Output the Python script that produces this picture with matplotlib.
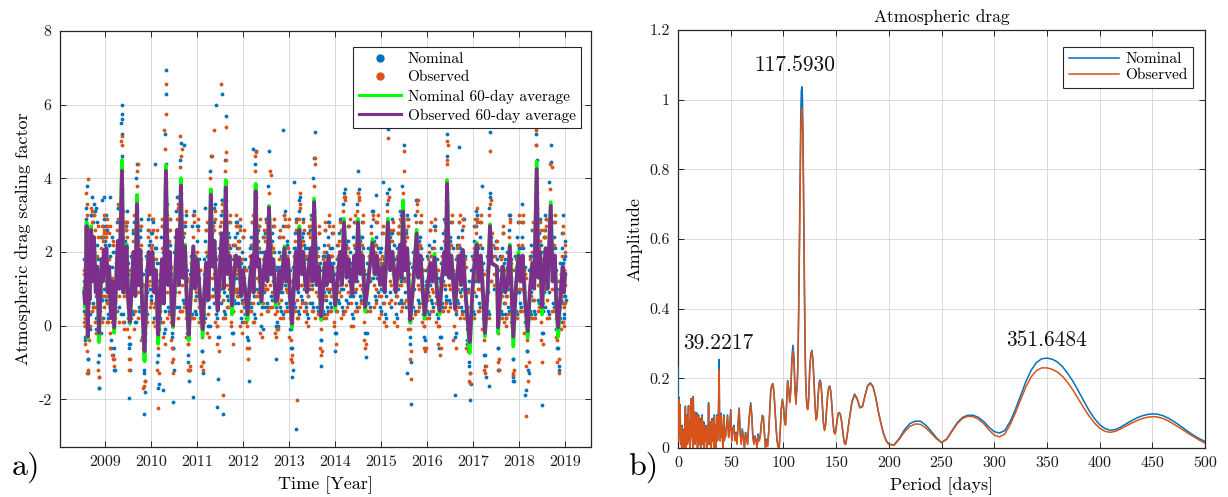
import numpy as np
import matplotlib
matplotlib.use("Agg")
import matplotlib.pyplot as plt
from matplotlib.lines import Line2D

plt.rcParams['font.family'] = ['cmr10', 'DejaVu Serif']
plt.rcParams['axes.unicode_minus'] = False
plt.rcParams['mathtext.fontset'] = 'cm'
plt.rcParams['axes.formatter.use_mathtext'] = True

BLUE = '#0072BD'
ORANGE = '#D95319'
GREEN = '#00FF00'
PURPLE = '#7E2F8E'
GRIDC = '#dadada'
FRAME = '#262626'

# ---------------- panel a) data ----------------
# 60-day average key points (fractional year)
KEY_T = [
    2008.550, 2008.565, 2008.585, 2008.600, 2008.625, 2008.645, 2008.665, 2008.700, 2008.730, 2008.760, 2008.800, 2008.830, 2008.870, 2008.900, 2008.930, 2008.950, 2008.975,
    2009.000, 2009.030, 2009.060, 2009.090, 2009.130, 2009.160, 2009.200, 2009.240, 2009.280, 2009.310, 2009.370, 2009.400, 2009.430, 2009.470, 2009.500, 2009.540, 2009.580, 2009.620, 2009.660, 2009.695, 2009.730, 2009.770, 2009.810, 2009.860, 2009.900, 2009.950, 2009.990,
    2010.030, 2010.070, 2010.110, 2010.155, 2010.200, 2010.240, 2010.280, 2010.325, 2010.370, 2010.410, 2010.450, 2010.480, 2010.530, 2010.570, 2010.610, 2010.650, 2010.690, 2010.740, 2010.780, 2010.820, 2010.870, 2010.920, 2010.960,
    2011.010, 2011.060, 2011.125, 2011.160, 2011.200, 2011.250, 2011.300, 2011.340, 2011.380, 2011.420, 2011.450, 2011.500, 2011.540, 2011.580, 2011.625, 2011.660, 2011.710, 2011.760, 2011.800, 2011.850, 2011.880, 2011.920, 2011.960,
    2012.000, 2012.050, 2012.100, 2012.150, 2012.200, 2012.230, 2012.275, 2012.310, 2012.350, 2012.400, 2012.450, 2012.500, 2012.530, 2012.565, 2012.610, 2012.660, 2012.710, 2012.750, 2012.790, 2012.830, 2012.900, 2012.940, 2012.980, 2013.030, 2013.065,
    2013.110, 2013.150, 2013.190, 2013.225, 2013.270, 2013.310, 2013.350, 2013.390, 2013.430, 2013.480, 2013.510, 2013.545, 2013.600, 2013.650, 2013.700, 2013.740, 2013.780, 2013.820, 2013.860, 2013.900, 2013.940, 2014.005,
    2014.060, 2014.110, 2014.150, 2014.195, 2014.250, 2014.300, 2014.370, 2014.420, 2014.460, 2014.500, 2014.550, 2014.600, 2014.655, 2014.720, 2014.815, 2014.860, 2014.910, 2014.980,
    2015.030, 2015.080, 2015.150, 2015.200, 2015.250, 2015.320, 2015.370, 2015.420, 2015.445, 2015.480, 2015.520, 2015.570, 2015.610, 2015.635, 2015.700, 2015.775, 2015.810, 2015.860, 2015.910, 2015.950,
    2016.010, 2016.070, 2016.110, 2016.165, 2016.220, 2016.275, 2016.320, 2016.380, 2016.410, 2016.435, 2016.480, 2016.530, 2016.610, 2016.650, 2016.700, 2016.740, 2016.780, 2016.830, 2016.880, 2016.930, 2016.990,
    2017.040, 2017.080, 2017.120, 2017.170, 2017.220, 2017.260, 2017.320, 2017.370, 2017.400, 2017.520, 2017.545, 2017.600, 2017.650, 2017.700, 2017.750, 2017.800, 2017.840, 2017.875, 2017.930, 2017.990,
    2018.030, 2018.080, 2018.130, 2018.190, 2018.240, 2018.290, 2018.330, 2018.385, 2018.420, 2018.460, 2018.500, 2018.540, 2018.580, 2018.620, 2018.690, 2018.730, 2018.780, 2018.810, 2018.850, 2018.900, 2018.950, 2018.975, 2019.000,
]
AVG_OBS = [
    0.9, 0.6, 1.4, 2.7, -0.3, 1.3, 0.7, 2.6, 1.2, 2.4, 0.9, 1.6, -0.2, 0.9, 1.8, 1.2, 2.05,
    1.4, 2.1, 0.9, 1.6, 0.2, 1.2, -0.05, 1.1, 2.3, 1.0, 4.2, 0.9, 1.6, 2.15, 0.8, 0.1, 1.0, 2.0, 0.8, 3.3, 1.1, 2.05, 0.5, -0.7, 1.0, 2.0, 1.4,
    2.0, 0.9, 1.5, -0.25, 0.8, 1.8, 0.6, 4.2, 1.1, 2.0, 0.5, 0.0, 1.5, 2.6, 1.1, 3.8, 1.3, 2.15, 0.6, -0.25, 1.0, 2.15, 1.0,
    1.8, 0.9, -0.1, 0.9, 1.7, 0.7, 3.55, 1.6, 2.3, 0.9, 0.4, 1.6, 2.5, 1.0, 3.75, 1.4, 1.9, 0.55, 1.3, 1.9, 1.6, 1.85, 0.8,
    1.5, 0.9, 0.3, 1.2, 1.9, 0.9, 3.65, 1.6, 1.8, 0.65, 1.5, 2.0, 1.2, 3.2, 1.4, 1.8, 0.65, 0.7, 1.5, 1.0, 2.1, 1.2, 1.8, 0.6, 0.05,
    1.2, 2.0, 1.0, 2.6, 1.4, 2.0, 1.2, 0.9, 1.6, 2.1, 1.2, 3.35, 1.1, 1.6, 0.25, 1.0, 1.7, 1.1, 1.9, 1.2, 1.6, 0.55,
    1.3, 2.0, 1.1, 2.8, 1.3, 1.8, 0.85, 1.9, 1.2, 2.8, 1.4, 1.9, 0.5, 1.2, 2.25, 1.4, 1.9, 1.1,
    1.6, 0.9, 2.8, 1.5, 2.0, 0.9, 1.6, 2.2, 1.3, 3.1, 1.5, 2.1, 0.8, 0.15, 1.1, 2.5, 1.3, 1.9, 0.9, 0.3,
    1.0, 1.7, 1.2, 1.85, 0.9, 0.4, 1.2, 2.0, 1.4, 3.85, 1.3, 1.9, 0.45, 1.3, 1.9, 1.1, 2.05, 1.0, 0.2, -0.45, 1.0,
    1.8, 2.2, 1.2, 1.9, 0.8, -0.2, 1.0, 2.7, 1.7, 1.6, -0.05, 1.0, 1.6, 0.9, 1.1, 2.15, 0.9, -0.3, 1.0, 1.9,
    1.2, 1.9, 0.7, -0.15, 1.0, 1.7, 1.0, 4.25, 1.3, 2.0, 0.5, 1.5, 2.1, 1.0, 3.25, 1.2, 1.9, 0.6, -0.05, 0.8, 1.6, 0.9, 1.4,
]
AVG_NOM = [
    1.0, 0.5, 1.5, 2.8, -0.35, 1.3, 0.7, 2.7, 1.2, 2.4, 0.9, 1.6, -0.45, 0.9, 1.8, 1.2, 1.95,
    1.4, 2.1, 0.9, 1.6, 0.2, 1.2, -0.2, 1.1, 2.3, 1.0, 4.5, 0.9, 1.6, 2.2, 0.8, 0.05, 1.0, 2.0, 0.8, 3.55, 1.1, 2.05, 0.5, -0.97, 1.0, 2.0, 1.4,
    2.0, 0.9, 1.5, -0.5, 0.8, 1.8, 0.6, 4.35, 1.1, 2.0, 0.5, -0.05, 1.5, 2.6, 1.1, 4.0, 1.3, 2.2, 0.6, -0.4, 1.0, 2.15, 1.0,
    1.8, 0.9, -0.3, 0.9, 1.7, 0.7, 3.7, 1.6, 2.3, 0.9, 0.4, 1.6, 2.5, 1.0, 3.95, 1.4, 1.9, 0.3, 1.3, 1.9, 1.6, 1.85, 0.8,
    1.5, 0.9, 0.15, 1.2, 1.9, 0.9, 3.85, 1.6, 1.8, 0.6, 1.5, 2.0, 1.2, 3.25, 1.4, 1.8, 0.55, 0.7, 1.5, 1.0, 2.15, 1.2, 1.8, 0.6, -0.05,
    1.2, 2.0, 1.0, 2.7, 1.4, 2.0, 1.2, 0.9, 1.6, 2.1, 1.2, 3.45, 1.1, 1.6, 0.15, 1.0, 1.7, 1.1, 1.9, 1.2, 1.6, 0.45,
    1.3, 2.0, 1.1, 2.9, 1.3, 1.8, 0.85, 1.9, 1.2, 2.9, 1.4, 1.9, 0.38, 1.2, 2.35, 1.4, 1.9, 1.1,
    1.6, 0.9, 2.9, 1.5, 2.0, 0.9, 1.6, 2.2, 1.3, 3.4, 1.5, 2.1, 0.8, 0.08, 1.1, 2.6, 1.3, 1.9, 0.9, 0.2,
    1.0, 1.7, 1.2, 1.95, 0.9, 0.3, 1.2, 2.0, 1.4, 3.95, 1.3, 1.9, 0.45, 1.3, 1.9, 1.1, 2.05, 1.0, 0.2, -0.75, 1.0,
    1.8, 2.25, 1.2, 1.9, 0.8, -0.3, 1.0, 2.75, 1.7, 1.6, -0.2, 1.0, 1.6, 0.9, 1.1, 2.2, 0.9, -0.57, 1.0, 2.0,
    1.2, 1.9, 0.7, -0.33, 1.0, 1.7, 1.0, 4.45, 1.3, 2.0, 0.3, 1.5, 2.1, 1.0, 3.35, 1.2, 1.9, 0.6, -0.3, 0.8, 1.6, 0.9, 1.4,
]
# daily scaling factors (tenths), three per key point, around each key point
NOM_PTS = [
    12,4,16, 0,9,-3, 20,7,26, 32,22,38, 2,-9,6, 19,8,14, 3,13,-1, 30,20,35, 17,6,24, 28,18,31, 14,2,8, 22,11,18, -10,2,-17, 4,15,-2, 24,12,34, 7,18,15, 27,16,35,
    10,22,18, 27,15,26, 13,3,8, 22,9,19, 5,-6,11, 16,6,20, -8,3,-12, 5,16,12, 28,18,32, 14,5,22, 55,46,37, 15,3,22, 12,23,19, 26,15,31, 12,2,-6, -5,7,-12, 15,4,9, 25,14,28, 11,1,16, 40,31,22, 17,5,24, 24,15,29, 8,-3,14, -12,-4,-18, 15,4,9, 26,14,22, 19,8,25,
    25,15,28, 13,2,6, 21,9,17, -10,3,-16, 12,2,6, 24,12,20, 10,-2,4, 52,44,33, 16,5,22, 26,14,22, 9,-3,3, -6,5,-12, 20,9,17, 31,21,35, 16,5,21, 45,36,28, 18,7,24, 27,16,30, 10,-2,5, -10,2,-15, 14,3,19, 27,16,31, 15,4,8,
    23,12,27, 13,2,7, -7,4,-13, 14,3,8, 23,11,19, 11,0,5, 42,33,25, 21,10,26, 28,18,33, 13,3,8, 7,-3,12, 21,10,17, 30,20,34, 15,4,9, 45,34,27, 19,8,25, 24,13,21, 9,-2,4, 18,7,14, 24,13,28, 21,10,18, 23,13,27, 12,2,7,
    20,9,16, 13,3,8, 6,-4,10, 16,6,22, 24,13,21, 14,3,8, 44,35,27, 21,10,26, 23,12,20, 10,0,5, 20,9,16, 25,14,29, 17,6,22, 38,29,22, 19,8,25, 23,12,20, 10,0,5, 11,1,6, 20,9,16, 15,4,9, 27,16,31, 17,6,22, 23,12,20, 10,-1,4, -6,4,-12,
    16,6,21, 25,14,29, 15,4,9, 31,21,35, 19,8,24, 25,14,22, 17,6,12, 13,3,8, 21,10,17, 26,15,29, 17,6,22, 40,31,24, 16,5,21, 21,10,17, 5,-4,10, 15,4,9, 22,11,19, 16,5,10, 24,13,28, 17,6,12, 21,10,17, 9,-2,4,
    18,7,13, 25,14,29, 16,5,10, 33,23,37, 18,7,23, 23,12,20, 13,3,8, 24,13,21, 17,6,12, 33,23,37, 19,8,24, 24,13,21, 9,-2,4, 17,6,12, 27,17,31, 19,8,14, 24,13,21, 16,5,10,
    21,10,17, 13,3,8, 33,23,37, 20,9,25, 25,14,22, 13,3,8, 21,10,17, 27,16,30, 18,7,13, 38,29,22, 20,9,25, 26,15,29, 12,2,7, -3,6,-10, 16,5,10, 30,20,34, 18,7,23, 24,13,21, 13,3,8, 6,-4,11,
    15,4,9, 22,11,19, 17,6,12, 23,13,27, 13,3,8, 7,-3,12, 17,6,12, 25,14,22, 19,8,14, 46,36,28, 18,7,23, 24,13,21, 8,-3,3, 18,7,13, 24,13,21, 16,5,10, 26,15,29, 15,4,9, 5,-5,10, -10,-2,-16, 15,4,9,
    23,12,20, 27,16,30, 17,6,12, 24,13,21, 12,2,7, -8,3,-14, 15,4,9, 32,22,36, 22,12,19, 21,13,18, -6,4,-12, 15,4,9, 21,10,17, 13,3,8, 16,5,10, 26,16,30, 13,3,8, -9,2,-15, 15,4,9, 24,13,21,
    17,6,12, 24,13,21, 11,1,6, -7,3,-13, 15,4,9, 22,11,19, 15,4,20, 52,45,36, 18,7,23, 25,14,22, 9,-2,4, 20,9,16, 26,15,29, 15,4,9, 39,30,23, 17,6,22, 24,13,21, 10,-1,4, -6,4,-12, 12,2,7, 21,10,17, 13,3,8, 19,8,14,
]
OBS_PTS = [
    9,14,2, 3,-5,11, 17,25,9, 36,24,30, -7,4,-12, 16,22,6, 10,0,15, 32,22,28, 14,21,5, 30,20,26, 5,13,-2, 19,9,24, -4,-14,5, 13,2,9, 21,27,14, 16,8,20, 25,30,14,
    19,8,24, 25,18,29, 6,15,1, 18,25,12, -2,9,-8, 13,22,8, 2,-9,7, 15,4,19, 26,33,17, 8,17,27, 50,42,31, 9,18,-1, 21,10,26, 28,19,24, 5,15,-3, 4,-9,12, 7,18,12, 23,30,16, 4,13,19, 38,28,44, 9,20,14, 27,18,22, 2,11,-6, -9,-15,0, 8,18,1, 24,30,15, 12,21,6,
    22,29,16, 5,15,0, 18,24,10, -6,5,-13, 4,14,9, 21,27,13, 1,12,-5, 48,39,30, 9,19,3, 23,29,16, 1,11,-6, 3,-9,8, 18,24,11, 29,22,33, 9,19,4, 43,33,48, 11,21,5, 25,19,31, 2,13,-5, -5,6,-12, 8,17,2, 24,30,17, 7,18,13,
    20,26,13, 5,15,0, -3,7,-10, 6,16,11, 20,26,12, 3,13,-3, 40,30,46, 13,23,8, 26,31,19, 6,15,0, 0,10,-7, 19,25,11, 28,33,21, 7,18,2, 42,31,47, 11,22,5, 22,28,15, 1,11,-5, 16,22,9, 22,27,15, 14,23,8, 21,26,14, 4,14,-2,
    18,24,10, 6,15,1, 0,9,-6, 10,19,4, 22,28,15, 6,16,1, 42,32,47, 13,23,8, 21,27,14, 3,13,-3, 18,24,10, 23,28,16, 10,19,4, 36,27,42, 11,22,5, 21,27,14, 3,13,-3, 4,14,-1, 18,24,10, 7,18,2, 24,29,17, 10,19,4, 21,27,14, 2,12,-4, 1,-8,7,
    10,19,4, 23,28,16, 7,18,2, 29,23,33, 11,22,6, 23,28,16, 10,19,4, 6,15,0, 19,25,11, 24,29,17, 10,19,4, 38,29,44, 9,19,3, 19,25,11, -1,9,-7, 7,18,2, 20,26,12, 8,18,3, 22,27,15, 10,19,4, 19,25,11, 1,11,-5,
    16,22,9, 23,28,16, 8,18,3, 31,24,35, 11,21,5, 21,27,14, 6,15,0, 22,28,15, 10,19,4, 31,24,35, 11,22,6, 22,28,15, 1,11,-5, 10,19,4, 25,30,18, 11,22,6, 22,28,15, 8,18,3,
    19,25,11, 6,15,0, 31,24,35, 12,23,7, 23,28,16, 6,15,0, 19,25,11, 25,29,18, 11,21,5, 36,27,42, 12,23,7, 24,29,17, 5,14,-1, 3,-7,10, 8,18,3, 28,33,21, 11,21,5, 22,28,15, 6,15,0, 0,10,-6,
    7,18,2, 20,26,12, 10,19,4, 21,26,14, 6,15,0, 0,10,-6, 10,19,4, 23,28,16, 11,22,6, 44,33,49, 11,21,5, 22,28,15, 0,11,-6, 11,21,5, 22,28,15, 8,18,3, 24,29,17, 7,18,2, -1,9,-7, -7,-13,2, 7,18,2,
    21,27,14, 25,29,18, 10,19,4, 22,28,15, 5,14,-1, -4,6,-11, 7,18,2, 30,23,34, 21,25,14, 19,23,15, -2,7,-9, 7,18,2, 19,25,11, 6,15,0, 8,18,3, 24,29,17, 6,15,0, -5,5,-12, 7,18,2, 22,28,15,
    10,19,4, 22,28,15, 4,14,-2, -4,6,-10, 7,18,2, 20,26,12, 7,18,2, 49,40,32, 11,21,5, 23,28,16, 1,11,-5, 18,24,10, 24,29,17, 7,18,2, 37,28,43, 10,19,4, 22,28,15, 2,12,-4, -2,7,-9, 5,14,-1, 19,25,11, 6,15,0, 11,22,6,
]
# second batch of daily values (tenths), two per key point
NOM_PTS2 = [
    18,2, 12,-4, 26,4, 29,17, -9,7, 22,6, 13,3, 30,16, 21,5, 33,14, 15,-1, 28,9, -8,8, 18,2, 24,8, 24,2, 29,10,
    23,7, 30,14, 18,2, 22,6, -4,12, 24,5, -6,9, 20,4, 32,16, 22,3, 32,24, 18,1, 28,9, 27,11, 17,1, -5,11, 19,3, 26,10, 17,1, 23,15, 23,4, 26,11, 14,-2, -13,1, 19,3, 29,10, 23,7,
    29,11, 18,2, 21,5, -8,8, 17,1, 27,8, 15,-1, 33,24, 20,4, 29,11, 14,-2, -6,10, 24,5, 35,17, 20,4, 30,22, 22,6, 27,12, 15,-1, -8,8, 19,3, 30,12, 19,3,
    27,8, 18,2, -7,9, 18,2, 26,7, 16,0, 25,18, 25,6, 32,16, 18,2, 13,-3, 25,6, 34,15, 19,3, 28,20, 23,7, 28,9, 14,-2, 22,6, 28,9, 25,6, 27,8, 17,1,
    24,5, 18,2, -3,12, 21,5, 28,9, 18,2, 26,19, 25,6, 27,8, 15,-1, 24,5, 29,10, 21,5, 22,14, 23,7, 27,8, 15,-1, 16,0, 24,5, 19,3, 30,11, 21,5, 27,8, 15,-1, -6,10,
    21,5, 29,10, 19,3, 34,17, 23,7, 29,10, 21,5, 18,2, 25,6, 30,11, 21,5, 24,16, 20,4, 25,6, -4,12, 19,3, 26,7, 20,4, 28,9, 21,5, 25,6, 14,-2,
    22,6, 29,10, 20,4, 36,18, 22,6, 27,8, 17,2, 28,9, 21,5, 36,18, 23,7, 28,9, 14,-2, 21,5, 31,13, 23,7, 28,9, 20,4,
    25,6, 18,2, 36,18, 24,5, 29,10, 18,2, 25,6, 31,12, 22,6, 21,13, 24,5, 30,11, 17,1, -5,11, 20,4, 34,15, 22,6, 28,9, 18,2, -3,12,
    19,3, 26,7, 21,5, 27,8, 18,2, 13,-3, 21,5, 29,10, 23,7, 30,22, 22,6, 28,9, 14,-2, 22,6, 28,9, 20,4, 29,11, 19,3, -4,12, -11,5, 19,3,
    27,8, 31,12, 21,5, 28,9, 17,1, -8,8, 19,3, 35,17, 24,10, 23,11, -6,9, 19,3, 25,6, 18,2, 20,4, 30,12, 18,2, -9,7, 19,3, 28,9,
    21,5, 28,9, 16,0, -7,9, 19,3, 26,7, 19,3, 33,25, 22,6, 29,10, 14,-2, 24,5, 30,11, 19,3, 23,15, 21,5, 28,9, 15,-1, -6,10, 17,1, 25,6, 18,2, 23,7,
]
OBS_PTS2 = [
    1,15, 0,12, 6,25, 22,33, -13,4, 5,19, -4,13, 21,31, 4,23, 18,30, 1,15, 8,27, -12,5, 1,15, 13,24, 1,23, 14,26,
    5,20, 12,27, 1,15, 8,27, -6,10, 1,23, -9,6, 2,17, 14,29, 1,22, 37,28, 1,15, 8,27, 10,28, -1,14, -9,7, 2,16, 11,26, -1,14, 28,20, 2,17, 12,27, -4,11, -17,-2, 2,16, 11,26, 5,20,
    11,26, 1,15, 6,26, -12,4, -1,14, 9,29, -3,12, 37,28, 2,17, 11,26, -4,11, -10,7, 6,26, 17,32, 2,17, 33,24, 4,19, 13,28, -3,12, -12,4, 2,16, 13,28, 2,16,
    9,29, 1,15, -11,6, 1,15, 8,28, -2,13, 31,22, 8,27, 14,29, 1,15, -5,10, 8,27, 16,31, 2,16, 33,24, 5,20, 10,30, 0,11, 4,19, 10,30, 8,27, 10,29, 0,14,
    6,26, 1,15, -6,9, 4,19, 10,30, 1,15, 32,23, 8,27, 9,29, -2,13, 6,26, 11,26, 4,19, 27,18, 5,20, 9,29, -2,13, -1,14, 6,26, 2,16, 12,27, 4,19, 9,29, -3,12, -9,7,
    4,19, 11,26, 2,16, 17,32, 5,20, 11,26, 4,19, 1,15, 8,27, 12,27, 4,19, 29,20, 2,17, 8,27, -6,9, 2,16, 8,28, 2,17, 10,30, 4,19, 8,27, 0,11,
    4,19, 11,26, 2,17, 19,34, 4,19, 9,29, 0,14, 10,30, 4,19, 19,34, 5,20, 10,30, -4,11, 4,19, 13,29, 5,20, 10,30, 2,17,
    8,27, 1,15, 19,34, 6,26, 11,26, 1,15, 8,27, 13,28, 4,19, 26,17, 6,26, 12,27, -1,14, -9,7, 2,17, 16,31, 4,19, 10,30, 1,15, -6,9,
    2,16, 8,28, 4,19, 9,29, 1,15, -5,10, 4,19, 11,26, 5,20, 34,25, 4,19, 10,30, -4,11, 4,19, 10,30, 2,17, 12,27, 2,16, -6,9, -15,1, 2,16,
    9,29, 13,28, 4,19, 10,30, -1,14, -12,4, 2,16, 18,33, 12,22, 11,21, -10,6, 2,16, 8,27, 1,15, 2,17, 13,28, 1,15, -13,3, 2,16, 10,30,
    4,19, 10,30, -2,13, -11,5, 2,16, 8,28, 2,16, 38,29, 4,19, 11,26, -4,11, 6,26, 12,27, 2,16, 28,19, 4,19, 10,30, -3,12, -10,6, -1,14, 8,27, 1,15, 5,20,
]
# extreme daily values
OUT_NOM_T = [2009.37, 2009.37, 2009.38, 2010.33, 2010.33, 2011.41, 2011.54, 2011.62, 2012.87, 2013.56, 2015.15, 2016.44, 2017.38, 2018.37,
             2012.22, 2012.57, 2014.50, 2018.70, 2018.70, 2010.72, 2010.09, 2009.69, 2015.49, 2016.70, 2012.28, 2013.55, 2016.44, 2018.37,
             2009.37, 2010.65, 2011.30, 2014.90, 2015.05, 2013.10, 2009.10, 2008.80, 2011.18, 2017.20, 2018.07, 2018.95,
             2009.52, 2009.84, 2010.16, 2010.26, 2010.48, 2010.92, 2011.45, 2011.56, 2011.43, 2012.12, 2013.15, 2013.07, 2015.66, 2016.94,
             2016.61, 2018.14, 2018.15, 2018.50, 2017.34, 2008.87, 2017.86, 2009.20, 2008.63, 2009.86, 2010.83, 2011.12, 2013.70, 2014.68,
             2015.57, 2016.27, 2016.93, 2017.27, 2017.55, 2017.88, 2018.20, 2018.86, 2014.00, 2012.72]
OUT_NOM_V = [6.0, 5.75, 5.6, 6.93, 6.3, 6.0, 6.3, 5.7, 5.3, 5.25, 5.35, 5.5, 5.27, 5.4,
             4.8, 4.75, 4.2, 4.9, 4.45, 4.9, 4.4, 4.4, 4.9, 4.85, 4.75, 4.55, 5.2, 4.9,
             5.2, 4.95, 4.6, 3.55, 3.9, 3.9, 3.5, 3.2, 3.2, 3.8, 3.3, 3.0,
             -1.98, -2.4, -1.7, -1.75, -2.07, -1.93, -1.45, -2.4, -2.2, -1.5, -2.8, -1.4, -2.14, -2.03,
             -1.9, -1.9, -1.75, -2.15, -1.65, -1.7, -1.5, -1.2, -1.3, -1.5, -1.2, -1.0, -1.1, -0.85,
             -1.3, -0.6, -1.3, -1.1, -1.2, -1.4, -1.2, -1.1, -0.7, -0.9]
OUT_OBS_T = [2010.33, 2010.33, 2011.52, 2009.37, 2010.29, 2016.44, 2015.15, 2017.38, 2018.37, 2011.62, 2008.64, 2010.63, 2013.56, 2015.49,
             2011.36, 2009.37, 2012.27, 2012.60, 2018.68, 2016.44, 2009.70, 2010.66, 2011.62, 2014.20, 2014.50, 2015.80, 2013.25, 2017.08, 2012.90,
             2010.16, 2013.17, 2011.56, 2018.15, 2016.94, 2009.84, 2015.66, 2009.52, 2008.87, 2010.48, 2010.84, 2011.12, 2012.10, 2013.07,
             2013.70, 2014.66, 2015.95, 2016.28, 2017.27, 2017.56, 2017.88, 2018.20, 2018.86, 2018.50, 2009.20]
OUT_OBS_V = [6.57, 5.75, 6.55, 5.15, 5.3, 5.0, 5.1, 4.75, 5.3, 5.4, 3.97, 5.15, 4.55, 4.75,
             5.3, 4.9, 4.6, 4.1, 4.4, 4.5, 4.2, 4.6, 4.5, 3.5, 3.6, 3.4, 3.6, 3.2, 3.0,
             -2.25, -2.03, -1.9, -2.45, -1.55, -1.65, -1.45, -1.2, -1.4, -1.3, -1.1, -1.2, -0.9, -1.0,
             -0.8, -0.6, -0.7, -0.8, -1.3, -1.2, -1.35, -1.5, -1.3, -1.0, -1.1]

YEAR_TICKS = [2009, 2010, 2011, 2012, 2013, 2014, 2015, 2016, 2017, 2018, 2019]
YEAR_LABELS = ['2009', '2010', '2011', '2012', '2013', '2014', '2015', '2016', '2017', '2018', '2019']
A_YTICKS = [-2, 0, 2, 4, 6, 8]
A_YLABELS = ['-2', '0', '2', '4', '6', '8']

# ---------------- panel b) data ----------------
PERIOD_SEGMENTS = [(0, 45, 0.5), (46, 88, 1), (89, 112, 1), (112.5, 125, 0.5),
                   (126, 160, 1), (162.5, 200, 2.5), (205, 500, 5)]
AMP_OBS = [
    # 0 - 45
    0.13,0.02,0.14,0.05,0.12,0.01,0.03,0.0,0.06,0.01,
    0.02,0.0,0.05,0.02,0.115,0.0,0.04,0.09,0.01,0.06,
    0.12,0.02,0.07,0.0,0.05,0.14,0.03,0.08,0.0,0.145,
    0.04,0.1,0.01,0.07,0.1,0.02,0.095,0.0,0.06,0.09,
    0.01,0.05,0.08,0.0,0.06,0.03,0.09,0.01,0.05,0.07,
    0.0,0.04,0.06,0.02,0.05,0.0,0.06,0.03,0.125,0.01,
    0.05,0.02,0.07,0.0,0.045,0.08,0.02,0.05,0.0,0.09,
    0.03,0.06,0.0,0.05,0.09,0.02,0.06,0.12,0.225,0.06,
    0.02,0.07,0.095,0.03,0.05,0.0,0.06,0.09,0.02,0.05,
    0.03,
    # 46 - 88
    0.06,0.09,0.03,0.05,0.105,0.02,0.05,0.06,0.02,0.04,
    0.01,0.07,0.11,0.04,0.01,0.05,0.03,0.0,0.04,0.03,
    0.01,0.06,0.10,0.125,0.09,0.03,0.01,0.03,0.02,0.0,
    0.035,0.02,0.03,0.065,0.09,0.085,0.04,0.0,0.02,0.005,
    0.04,0.10,0.16,
    # 89 - 112
    0.178,0.183,0.16,0.11,0.06,0.02,0.003,0.0,0.05,0.11,
    0.137,0.12,0.08,0.065,0.12,0.19,0.17,0.13,0.16,0.24,
    0.28,0.25,0.16,0.125,
    # 112.5 - 125
    0.16,0.17,0.21,0.28,0.38,0.5,0.64,0.78,0.9,0.96,0.975,0.95,0.87,
    0.74,0.58,0.43,0.3,0.21,0.16,0.13,0.115,0.11,0.118,0.14,0.18,0.225,
    # 126 - 160
    0.265,0.277,0.25,0.19,0.12,0.08,0.09,0.15,0.185,0.192,
    0.17,0.12,0.07,0.05,0.065,0.11,0.15,0.172,0.176,0.16,
    0.12,0.075,0.045,0.04,0.055,0.08,0.097,0.1,0.096,0.08,
    0.055,0.03,0.012,0.01,0.025,
    # 162.5 - 200
    0.08,0.13,0.152,0.14,0.115,0.118,0.15,0.178,0.185,0.175,0.145,0.105,0.07,0.04,0.02,0.01,
    # 205 - 500
    0.008,0.025,0.047,0.062,0.069,0.068,0.058,0.043,0.027,0.015,
    0.025,0.048,0.07,0.085,0.091,0.09,0.083,0.07,0.052,0.037,
    0.032,0.04,0.066,0.1,0.138,0.175,0.204,0.222,0.23,0.23,
    0.226,0.218,0.205,0.187,0.165,0.14,0.115,0.092,0.072,0.057,
    0.048,0.045,0.048,0.055,0.063,0.071,0.078,0.084,0.088,0.09,
    0.089,0.085,0.078,0.069,0.06,0.05,0.04,0.031,0.022,0.014,
]
AMP_NOM = [
    # 0 - 45
    0.234,0.03,0.146,0.06,0.125,0.015,0.035,0.0,0.065,0.015,
    0.025,0.0,0.055,0.025,0.12,0.005,0.045,0.095,0.015,0.065,
    0.122,0.025,0.075,0.0,0.055,0.142,0.035,0.085,0.005,0.148,
    0.045,0.103,0.015,0.075,0.102,0.025,0.1,0.0,0.065,0.095,
    0.015,0.055,0.085,0.0,0.065,0.035,0.095,0.015,0.055,0.075,
    0.0,0.045,0.065,0.025,0.055,0.0,0.065,0.035,0.13,0.015,
    0.055,0.025,0.075,0.0,0.05,0.085,0.025,0.055,0.0,0.095,
    0.035,0.065,0.0,0.055,0.095,0.025,0.065,0.125,0.254,0.065,
    0.025,0.075,0.1,0.035,0.055,0.0,0.065,0.095,0.025,0.055,
    0.035,
    # 46 - 88
    0.065,0.095,0.035,0.055,0.11,0.025,0.055,0.065,0.025,0.045,
    0.015,0.075,0.115,0.045,0.015,0.055,0.035,0.0,0.045,0.035,
    0.015,0.065,0.105,0.13,0.095,0.035,0.015,0.035,0.025,0.0,
    0.04,0.025,0.035,0.07,0.094,0.09,0.045,0.0,0.025,0.008,
    0.045,0.105,0.165,
    # 89 - 112
    0.18,0.185,0.163,0.113,0.063,0.022,0.004,0.0,0.053,0.113,
    0.14,0.123,0.083,0.068,0.125,0.193,0.173,0.133,0.17,0.255,
    0.295,0.265,0.17,0.13,
    # 112.5 - 125
    0.17,0.18,0.22,0.3,0.4,0.53,0.68,0.83,0.96,1.025,1.037,1.01,0.93,
    0.79,0.62,0.46,0.32,0.22,0.17,0.135,0.118,0.112,0.12,0.145,0.185,0.23,
    # 126 - 160
    0.27,0.28,0.255,0.195,0.125,0.082,0.092,0.155,0.19,0.195,
    0.175,0.123,0.072,0.052,0.067,0.113,0.153,0.175,0.178,0.162,
    0.122,0.077,0.047,0.042,0.057,0.082,0.099,0.102,0.098,0.082,
    0.057,0.032,0.013,0.011,0.027,
    # 162.5 - 200
    0.082,0.133,0.155,0.142,0.117,0.12,0.152,0.18,0.187,0.177,0.147,0.107,0.072,0.042,0.022,0.011,
    # 205 - 500
    0.009,0.028,0.053,0.07,0.077,0.077,0.066,0.049,0.03,0.016,
    0.026,0.05,0.073,0.088,0.094,0.094,0.088,0.076,0.06,0.047,
    0.043,0.05,0.075,0.11,0.15,0.19,0.223,0.245,0.256,0.258,
    0.255,0.247,0.233,0.213,0.19,0.163,0.135,0.108,0.085,0.067,
    0.056,0.051,0.053,0.06,0.069,0.078,0.086,0.092,0.096,0.098,
    0.097,0.093,0.086,0.077,0.067,0.056,0.045,0.035,0.026,0.019,
]
PEAK_LABELS = ['39.2217', '117.5930', '351.6484']
PEAK_X = [38.0, 111.0, 349.5]
PEAK_Y = [0.272, 1.07, 0.282]
B_XTICKS = [0, 50, 100, 150, 200, 250, 300, 350, 400, 450, 500]
B_YTICKS = [0, 0.2, 0.4, 0.6, 0.8, 1.0, 1.2]
B_YLABELS = ['0', '0.2', '0.4', '0.6', '0.8', '1', '1.2']

# ---------------- figure ----------------
W, H = 1228, 497
fig = plt.figure(figsize=(W / 100, H / 100), dpi=100)
ax1 = fig.add_axes([60 / W, 1 - 447 / H, (591 - 60) / W, (447 - 31) / H])
ax2 = fig.add_axes([678 / W, 1 - 448 / H, (1205 - 678) / W, (448 - 30) / H])


def style(ax):
    ax.grid(True, color=GRIDC, lw=0.7)
    ax.set_axisbelow(True)
    for sp in ax.spines.values():
        sp.set_color(FRAME)
        sp.set_linewidth(0.9)
    ax.tick_params(direction='in', length=4.5, width=0.7, top=True, right=True,
                   labelsize=11.5, pad=6, color=FRAME, labelcolor='#1a1a1a')


# panel a
T = np.array(KEY_T)
gl = np.diff(T, prepend=T[0] - (T[1] - T[0]))
gr = np.diff(T, append=T[-1] + (T[-1] - T[-2]))


def spread(offsets):
    cols = [T + (o * gl if o < 0 else o * gr) for o in offsets]
    return np.stack(cols, axis=1).ravel()


def pts(xs, vals):
    v = np.array(vals, float) / 10.0
    n = min(len(xs), len(v))
    return xs[:n], v[:n]


xn, vn = pts(spread((-0.4, 0.0, 0.33)), NOM_PTS)
xo, vo = pts(spread((-0.28, 0.12, 0.42)), OBS_PTS)
xn2, vn2 = pts(spread((-0.17, 0.48)), NOM_PTS2)
xo2, vo2 = pts(spread((-0.47, 0.24)), OBS_PTS2)
ms = 7.5
ax1.scatter(np.concatenate([xn, xn2, OUT_NOM_T]), np.concatenate([vn, vn2, OUT_NOM_V]),
            s=ms, color=BLUE, lw=0, zorder=2)
ax1.scatter(np.concatenate([xo, xo2, OUT_OBS_T]), np.concatenate([vo, vo2, OUT_OBS_V]),
            s=ms, color=ORANGE, lw=0, zorder=3)
ax1.plot(T, AVG_NOM, color=GREEN, lw=2.7, zorder=4, solid_joinstyle='round')
ax1.plot(T, AVG_OBS, color=PURPLE, lw=2.7, zorder=5, solid_joinstyle='round')

ax1.set_xlim(2008.022, 2019.565)
ax1.set_ylim(-3.3, 8)
ax1.set_xticks(YEAR_TICKS, labels=YEAR_LABELS)
ax1.set_yticks(A_YTICKS, labels=A_YLABELS)
style(ax1)
ax1.set_xlabel('Time [Year]', fontsize=13, labelpad=5)
ax1.set_ylabel('Atmospheric drag scaling factor', fontsize=13, labelpad=5)

h1 = [Line2D([], [], ls='', marker='o', ms=5, color=BLUE),
      Line2D([], [], ls='', marker='o', ms=5, color=ORANGE),
      Line2D([], [], color=GREEN, lw=2.2),
      Line2D([], [], color=PURPLE, lw=2.2)]
leg1 = ax1.legend(h1, ['Nominal', 'Observed', 'Nominal 60-day average', 'Observed 60-day average'],
                  loc='upper right', bbox_to_anchor=(0.981, 0.962), borderaxespad=0,
                  fontsize=11, frameon=True, fancybox=False, framealpha=1,
                  edgecolor='#262626', handlelength=2.8, handletextpad=0.4,
                  labelspacing=0.32, borderpad=0.35)
leg1.get_frame().set_linewidth(0.8)
leg1.set_zorder(10)

# panel b
P = np.concatenate([np.arange(a, b + step / 2, step) for a, b, step in PERIOD_SEGMENTS])
na = min(len(P), len(AMP_NOM))
nb = min(len(P), len(AMP_OBS))
ax2.plot(P[:na], AMP_NOM[:na], color=BLUE, lw=1.1, label='Nominal', zorder=3)
ax2.plot(P[:nb], AMP_OBS[:nb], color=ORANGE, lw=1.1, label='Observed', zorder=4)
for lab, px, py in zip(PEAK_LABELS, PEAK_X, PEAK_Y):
    ax2.text(px, py, lab, ha='center', va='bottom', fontsize=15.5, color='#111111', zorder=6)
ax2.set_xlim(0, 500)
ax2.set_ylim(0, 1.2)
ax2.set_xticks(B_XTICKS, labels=[str(v) for v in B_XTICKS])
ax2.set_yticks(B_YTICKS, labels=B_YLABELS)
style(ax2)
ax2.set_xlabel('Period [days]', fontsize=13, labelpad=5)
ax2.set_ylabel('Amplitude', fontsize=13, labelpad=5)
ax2.set_title('Atmospheric drag', fontsize=12.5, pad=6)
leg2 = ax2.legend(loc='upper right', bbox_to_anchor=(0.977, 0.959), borderaxespad=0,
                  fontsize=11, frameon=True, fancybox=False, framealpha=1,
                  edgecolor='#262626', handlelength=3.3, handletextpad=0.4,
                  labelspacing=0.15, borderpad=0.35)
leg2.get_frame().set_linewidth(0.8)

fig.text(26 / W, 1 - 467 / H, 'a)', ha='center', va='center', fontsize=23)
fig.text(643 / W, 1 - 467 / H, 'b)', ha='center', va='center', fontsize=23)

fig.savefig('out.png', dpi=100)
